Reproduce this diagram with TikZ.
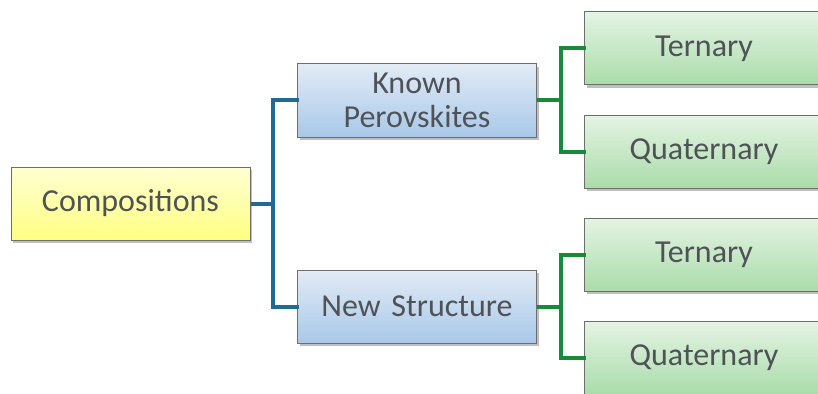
\documentclass[tikz,border=0pt]{standalone}
\usepackage{fontspec}
\setmainfont{Carlito}
\usetikzlibrary{shadows}
\definecolor{txt}{HTML}{4F5257}
\definecolor{bord}{HTML}{6E6E6E}
\definecolor{bluel}{HTML}{1F6B96}
\definecolor{greenl}{HTML}{19893A}
\tikzset{
  box/.style={draw=bord, line width=1pt, minimum width=239pt, minimum height=73pt,
    text width=230pt, align=center, text=txt, font=\fontsize{32}{35}\selectfont,
    inner sep=0pt,
    drop shadow={shadow xshift=2pt, shadow yshift=-3pt, opacity=0.25, fill=black}},
  ybox/.style={box, top color={rgb,255:red,255;green,255;blue,210}, bottom color={rgb,255:red,255;green,255;blue,130}},
  bbox/.style={box, top color={rgb,255:red,226;green,235;blue,246}, bottom color={rgb,255:red,168;green,200;blue,232}},
  gbox/.style={box, top color={rgb,255:red,228;green,244;blue,228}, bottom color={rgb,255:red,170;green,220;blue,170}},
  bconn/.style={draw=bluel, line width=4pt},
  gconn/.style={draw=greenl, line width=4pt},
}
\begin{document}
\begin{tikzpicture}[x=1pt,y=-1pt]
\clip (0,0) rectangle (818,393);
\fill[white] (0,0) rectangle (818,393);
\node[ybox] (comp) at (130.5,203.5) {Compositions};
\node[bbox] (known) at (417,100.5) {Known\\[-1pt]Perovskites};
\node[bbox] (new) at (417,306.5) {New Structure};
\node[gbox] (t1) at (704,48.5) {Ternary};
\node[gbox] (q1) at (704,151.5) {Quaternary};
\node[gbox] (t2) at (704,254.5) {Ternary};
\node[gbox] (q2) at (704,357.5) {Quaternary};
\coordinate (bj) at (273,0);
\coordinate (gj) at (561,0);
\draw[bconn] (comp.east) -- (comp.east -| bj);
\draw[bconn, line cap=rect] (known.west) -- (known.west -| bj) -- (new.west -| bj) -- (new.west);
\draw[gconn] (known.east) -- (known.east -| gj);
\draw[gconn, line cap=rect] (t1.west) -- (t1.west -| gj) -- (q1.west -| gj) -- (q1.west);
\draw[gconn] (new.east) -- (new.east -| gj);
\draw[gconn, line cap=rect] (t2.west) -- (t2.west -| gj) -- (q2.west -| gj) -- (q2.west);
\end{tikzpicture}
\end{document}
